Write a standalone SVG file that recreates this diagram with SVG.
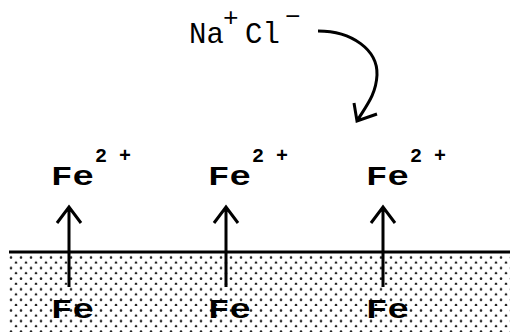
<svg xmlns="http://www.w3.org/2000/svg" width="510" height="332" viewBox="0 0 510 332">
<style>
.fe{font-family:"Liberation Mono","Courier New",monospace;font-weight:bold;font-size:28px;fill:#000}
.sup{font-family:"Liberation Mono","Courier New",monospace;font-weight:bold;font-size:21px;fill:#000}
.nacl{font-family:"Liberation Mono","Courier New",monospace;font-size:29px;fill:#000}
.nsup{font-family:"Liberation Mono","Courier New",monospace;font-size:26px;fill:#000}
.ln{stroke:#000;stroke-width:3;fill:none}
</style>
<defs>
<pattern id="dots" x="9" y="253" width="10" height="10.6" patternUnits="userSpaceOnUse">
<circle cx="2" cy="4.5" r="1.3" fill="#222"/>
<circle cx="7" cy="9.8" r="1.3" fill="#222"/>
</pattern>
</defs>
<rect id="metal" x="9" y="253" width="501" height="79" fill="url(#dots)"/>
<line id="surface" x1="9" y1="252" x2="510" y2="252" class="ln"/>
<g id="nacl">
<text class="nacl" x="189" y="43">Na</text>
<text class="nsup" x="223" y="26">+</text>
<text class="nacl" x="245" y="43">Cl</text>
<text class="nsup" x="285" y="25">−</text>
</g>
<g id="ion1"><text class="fe" x="51" y="185" textLength="43" lengthAdjust="spacingAndGlyphs">Fe</text><text class="sup" x="95" y="162" textLength="36" lengthAdjust="spacingAndGlyphs">2 +</text></g>
<g id="ion2"><text class="fe" x="208" y="185" textLength="43" lengthAdjust="spacingAndGlyphs">Fe</text><text class="sup" x="252" y="162" textLength="36" lengthAdjust="spacingAndGlyphs">2 +</text></g>
<g id="ion3"><text class="fe" x="366" y="185" textLength="43" lengthAdjust="spacingAndGlyphs">Fe</text><text class="sup" x="410" y="162" textLength="36" lengthAdjust="spacingAndGlyphs">2 +</text></g>
<g id="fe1"><text class="fe" x="51" y="318" textLength="43" lengthAdjust="spacingAndGlyphs">Fe</text></g>
<g id="fe2"><text class="fe" x="208" y="318" textLength="43" lengthAdjust="spacingAndGlyphs">Fe</text></g>
<g id="fe3"><text class="fe" x="366" y="318" textLength="43" lengthAdjust="spacingAndGlyphs">Fe</text></g>
<g id="connectors">
<path class="ln" d="M69,287 V207 M57,223 L69,207 L81,223"/>
<path class="ln" d="M226,287 V207 M214,223 L226,207 L238,223"/>
<path class="ln" d="M383,287 V207 M371,223 L383,207 L395,223"/>
<path class="ln" stroke-width="2.5" d="M318,31 C352,31 378,50 377,75 C376,95 366,106 357,121 M354,103 L357,121 L377,114"/>
</g>
</svg>
